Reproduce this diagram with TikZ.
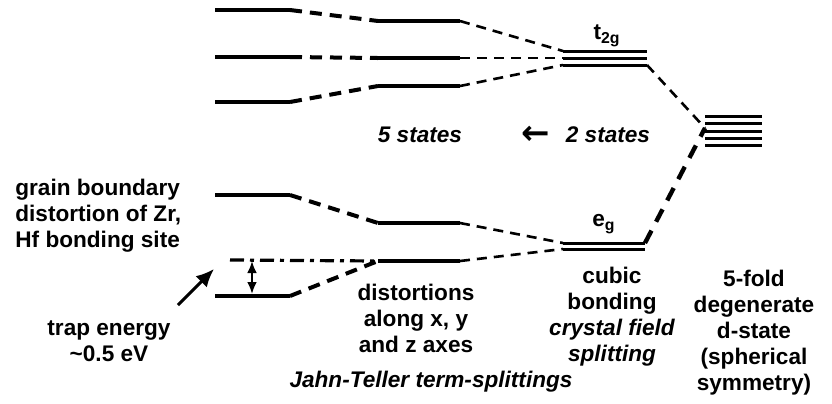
\documentclass[tikz,border=0pt]{standalone}
\usepackage{fontspec}
\setmainfont{Liberation Sans}
\newfontfamily\arrowfont{DejaVu Sans}
\usetikzlibrary{arrows.meta,positioning}

\begin{document}
\begin{tikzpicture}[
    x=0.5pt, y=-0.5pt,
    level/.style={line width=2.3pt},
    thinlevel/.style={line width=1.5pt},
    link/.style={line width=2pt, dash pattern=on 6pt off 4pt},
    thinlink/.style={line width=1.3pt, dash pattern=on 5pt off 3.5pt},
    biglink/.style={line width=2.2pt, dash pattern=on 7pt off 5pt},
    label/.style={font=\fontsize{11.3}{13}\selectfont\bfseries, align=center, inner sep=0pt},
    itlabel/.style={label, font=\fontsize{11.3}{13}\selectfont\bfseries\itshape}
]
\useasboundingbox (0,0) rectangle (832,403);

% grain boundary levels
\coordinate (a1w) at (215,10);  \coordinate (a1e) at (290,10);
\coordinate (a2w) at (215,57);  \coordinate (a2e) at (290,57);
\coordinate (a3w) at (215,102); \coordinate (a3e) at (290,102);
\coordinate (a4w) at (215,195); \coordinate (a4e) at (290,195);
\coordinate (a5w) at (215,296); \coordinate (a5e) at (290,296);
\coordinate (trapw) at (230,260);

% Jahn-Teller levels
\coordinate (b1w) at (378,21);  \coordinate (b1e) at (460,21);
\coordinate (b2w) at (378,58);  \coordinate (b2e) at (460,58);
\coordinate (b3w) at (378,86);  \coordinate (b3e) at (460,86);
\coordinate (b4w) at (378,223); \coordinate (b4e) at (460,223);
\coordinate (b5w) at (378,261); \coordinate (b5e) at (460,261);

% cubic levels
\coordinate (t1w) at (563,51); \coordinate (t1e) at (647,51);
\coordinate (t2w) at (563,58); \coordinate (t2e) at (647,58);
\coordinate (t3w) at (563,65); \coordinate (t3e) at (647,65);
\coordinate (e1w) at (563,243); \coordinate (e1e) at (645,243);
\coordinate (e2w) at (563,249); \coordinate (e2e) at (645,249);

% degenerate d-state
\coordinate (d1w) at (705,116); \coordinate (d1e) at (762,116);
\coordinate (d2w) at (705,123); \coordinate (d2e) at (762,123);
\coordinate (d3w) at (705,131); \coordinate (d3e) at (762,131);
\coordinate (d4w) at (705,138); \coordinate (d4e) at (762,138);
\coordinate (d5w) at (705,145); \coordinate (d5e) at (762,145);
\coordinate (dtip) at (705,128);

\draw[level] (a1w) -- (a1e);
\draw[level] (a2w) -- (a2e);
\draw[level] (a3w) -- (a3e);
\draw[level] (a4w) -- (a4e);
\draw[level] (a5w) -- (a5e);
\draw[level] (b1w) -- (b1e);
\draw[level] (b2w) -- (b2e);
\draw[level] (b3w) -- (b3e);
\draw[level] (b4w) -- (b4e);
\draw[level] (b5w) -- (b5e);
\draw[thinlevel] (t1w) -- (t1e);
\draw[thinlevel] (t2w) -- (t2e);
\draw[thinlevel] (t3w) -- (t3e);
\draw[thinlevel] (e1w) -- (e1e);
\draw[thinlevel] (e2w) -- (e2e);
\draw[thinlevel] (d1w) -- (d1e);
\draw[thinlevel] (d2w) -- (d2e);
\draw[thinlevel] (d3w) -- (d3e);
\draw[thinlevel] (d4w) -- (d4e);
\draw[thinlevel] (d5w) -- (d5e);

% splittings
\draw[link] (a1e) -- (b1w);
\draw[link] (a2e) -- (b2w);
\draw[link] (a3e) -- (b3w);
\draw[link] (a4e) -- (b4w);
\draw[link] (a5e) -- (b5w);
\draw[line width=1.6pt, dash pattern=on 7pt off 3pt on 2pt off 3pt] (trapw) -- (b5w);
\draw[thinlink] (b1e) -- (t1w);
\draw[thinlink] (b2e) -- (t2w);
\draw[thinlink] (b3e) -- (t3w);
\draw[thinlink] (b4e) -- (e1w);
\draw[thinlink] (b5e) -- (e2w);
\draw[thinlink] (t3e) -- (dtip);
\draw[biglink] (e1e) -- (dtip);

% trap energy
\coordinate (gapt) at (252,261);
\coordinate (gapb) at (252,294);
\draw[line width=1.3pt, {Latex[length=6pt,width=5pt]}-{Latex[length=6pt,width=5pt]}] (gapt) -- (gapb);
\coordinate (trapfrom) at (178,305);
\coordinate (trapto) at (214,269);
\draw[line width=1.5pt, -{Latex[length=9pt,width=8pt]}] (trapfrom) -- (trapto);

% labels
\node (t2g) at (607,36) [label] {t\textsubscript{2g}};
\node (eg) at (604,224) [label] {e\textsubscript{g}};
\node (five) at (420,135) [itlabel] {5 states};
\node (two) at (608,135) [itlabel] {2 states};
\node (back) at (536,135) [label] {\arrowfont\bfseries\fontsize{17}{17}\selectfont ←};
\node (grain) at (15,216) [label, align=left, anchor=west] {grain boundary\\distortion of Zr,\\Hf bonding site};
\node (trap) at (109,341) [label] {trap energy\\\textasciitilde 0.5 eV};
\node (dist) at (416,318) [label] {distortions\\along x, y\\and z axes};
\node (jt) at (431,382) [itlabel] {Jahn-Teller term-splittings};
\node (cubic) at (612,317) [label] {cubic\\bonding\\\itshape crystal field\\\itshape splitting};
\node (deg) at (754,333) [label] {5-fold\\degenerate\\d-state\\(spherical\\symmetry)};

\end{tikzpicture}
\end{document}
